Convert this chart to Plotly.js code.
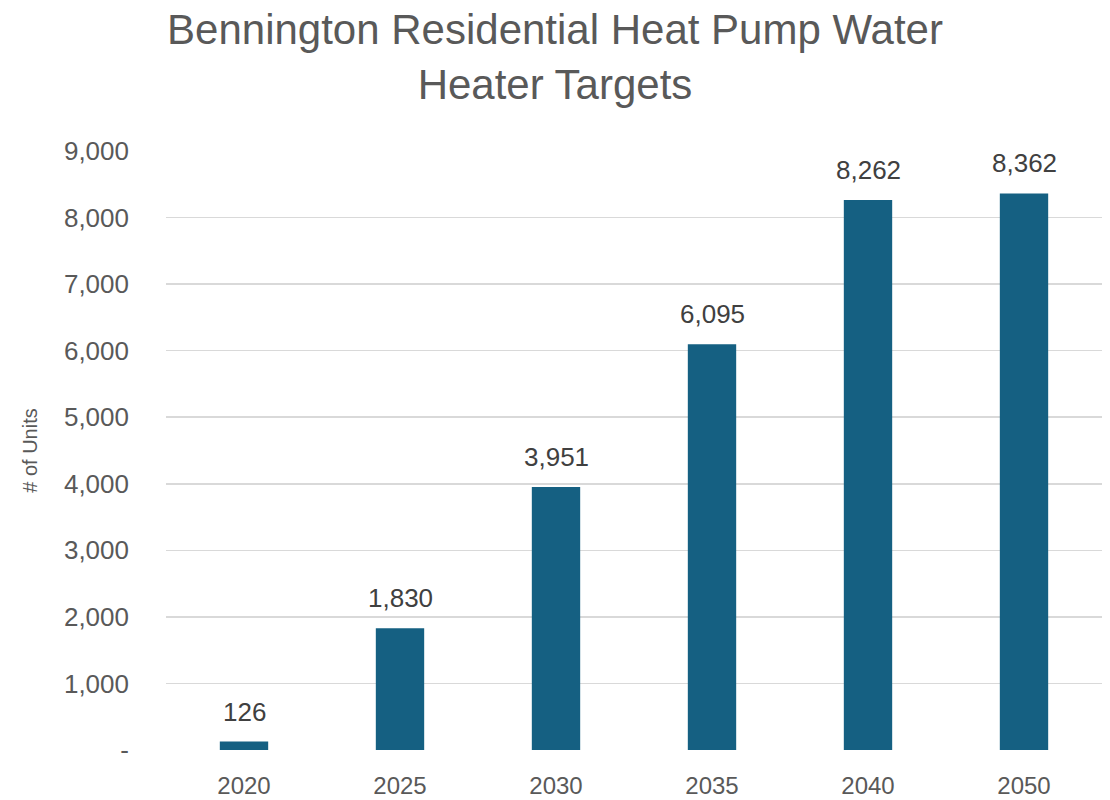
<!DOCTYPE html>
<html><head><meta charset="utf-8">
<script src="https://cdn.plot.ly/plotly-3.0.1.min.js"></script>
<style>html,body{margin:0;padding:0;background:#fff}</style>
</head><body>
<div id="chart" style="width:1110px;height:800px"></div>
<script>
const years = ["2020","2025","2030","2035","2040","2050"];
const units = [126, 1830, 3951, 6095, 8262, 8362];
const labels = ["126","1,830","3,951","6,095","8,262","8,362"];
const yTickVals = [0,1000,2000,3000,4000,5000,6000,7000,8000,9000];
const yTickText = ["-","1,000","2,000","3,000","4,000","5,000","6,000","7,000","8,000","9,000"];

const font = "Liberation Sans, Arial, sans-serif";
const trace = {
  type: "bar", x: years, y: units,
  marker: {color: "#156082"},
  hoverinfo: "x+y"
};
const annotations = years.map((yr, i) => ({
  x: i, y: units[i], xref: "x", yref: "y", text: labels[i], showarrow: false,
  yanchor: "bottom", yshift: 13,
  font: {family: font, size: 26, color: "#404040"}
}));
const layout = {
  width: 1110, height: 800,
  margin: {l: 166, r: 8, t: 151, b: 50},
  paper_bgcolor: "#fff", plot_bgcolor: "#fff",
  bargap: 0.69,
  showlegend: false,
  title: {
    text: "Bennington Residential Heat Pump Water<br>Heater Targets",
    x: 0.5, xanchor: "center", xref: "container",
    y: 0.945, yanchor: "middle", yref: "container",
    font: {family: "Liberation Sans Narrow, Liberation Sans, sans-serif", size: 42, color: "#595959"}
  },
  xaxis: {
    type: "category", range: [-0.5, 5.5],
    tickfont: {family: font, size: 24, color: "#595959"},
    showgrid: false, showline: false, ticks: "", ticklabelstandoff: 19
  },
  yaxis: {
    range: [0, 9000], tickvals: yTickVals, ticktext: yTickText,
    tickfont: {family: font, size: 26, color: "#595959"},
    gridcolor: "#d9d9d9", gridwidth: 1.5,
    zeroline: false, showline: false, ticks: "",
    ticklabelstandoff: 36,
    title: {text: "# of Units", standoff: 20, font: {family: font, size: 20, color: "#595959"}}
  },
  annotations: annotations
};
Plotly.newPlot("chart", [trace], layout, {displayModeBar: false, staticPlot: true});
</script>
</body></html>
